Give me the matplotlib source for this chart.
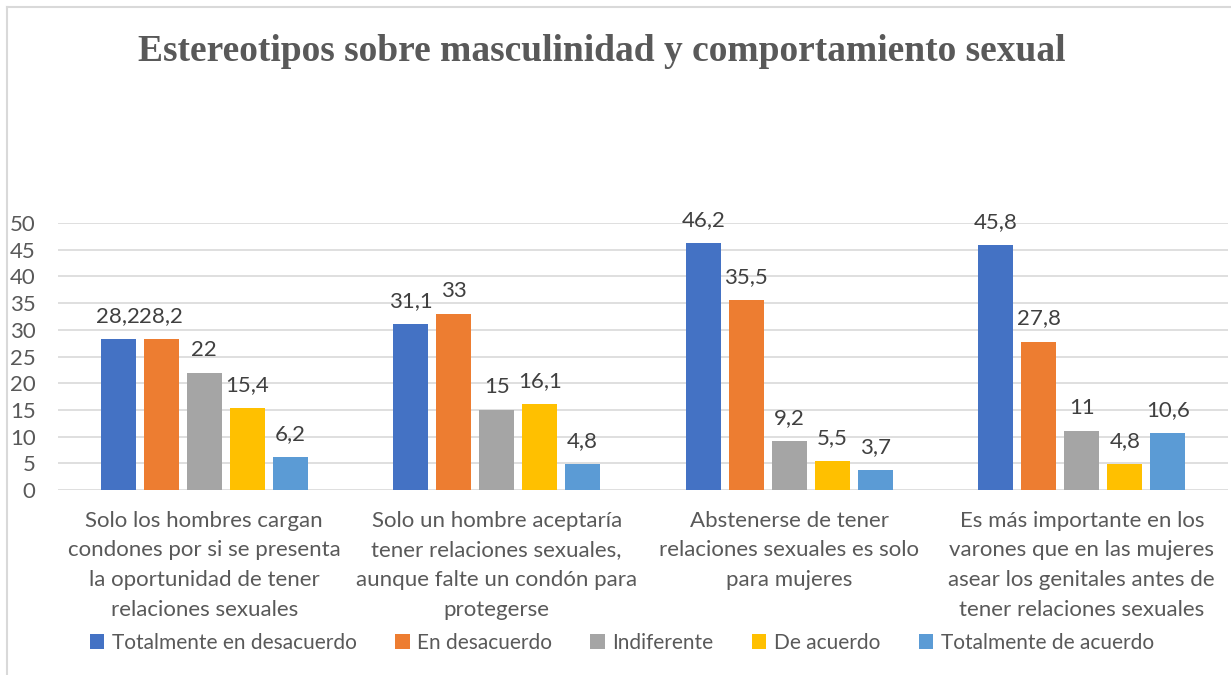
import numpy as np
import matplotlib.pyplot as plt
from matplotlib.lines import Line2D

categories = [
    "Solo los hombres cargan\ncondones por si se presenta\nla oportunidad de tener\nrelaciones sexuales",
    "Solo un hombre aceptaría\ntener relaciones sexuales,\naunque falte un condón para\nprotegerse",
    "Abstenerse de tener\nrelaciones sexuales es solo\npara mujeres",
    "Es más importante en los\nvarones que en las mujeres\nasear los genitales antes de\ntener relaciones sexuales",
]
series_names = ["Totalmente en desacuerdo", "En desacuerdo", "Indiferente",
                "De acuerdo", "Totalmente de acuerdo"]
totalmente_desacuerdo = [28.2, 31.1, 46.2, 45.8]
en_desacuerdo = [28.2, 33, 35.5, 27.8]
indiferente = [22, 15, 9.2, 11]
de_acuerdo = [15.4, 16.1, 5.5, 4.8]
totalmente_acuerdo = [6.2, 4.8, 3.7, 10.6]
colors = ["#4472C4", "#ED7D31", "#A5A5A5", "#FFC000", "#5B9BD5"]

series = [totalmente_desacuerdo, en_desacuerdo, indiferente, de_acuerdo, totalmente_acuerdo]

plt.rcParams['font.family'] = ['Lato', 'DejaVu Sans']
text_color = "#595959"

fig = plt.figure(figsize=(12.31, 6.75), dpi=100)
ax = fig.add_axes([0.047, 0.274, 0.9506, 0.3956])

x = np.arange(len(categories))
slot = 0.147
width = 0.12
for i, (name, vals, c) in enumerate(zip(series_names, series, colors)):
    pos = x + (i - 2) * slot
    bars = ax.bar(pos, vals, width=width, color=c, label=name, zorder=3)
    for b, v in zip(bars, vals):
        ax.annotate(f"{v:g}".replace(".", ","), (b.get_x() + b.get_width() / 2, v),
                    xytext=(0, 13), textcoords="offset pixels", ha="center", va="bottom",
                    fontsize=16, color="#404040")

ax.set_xlim(-0.5, 3.5)
ax.set_ylim(0, 50)
ax.set_yticks(range(0, 51, 5))
ax.yaxis.grid(True, color="#D9D9D9", linewidth=1.2, zorder=0)
for s in ax.spines.values():
    s.set_visible(False)
ax.tick_params(axis="both", length=0, colors=text_color, labelsize=16)
ax.tick_params(axis="y", pad=16)
ax.set_xticks(x)
ax.set_xticklabels(categories, linespacing=1.6)
ax.tick_params(axis="x", pad=15)

fig.suptitle("Estereotipos sobre masculinidad y comportamiento sexual",
             x=0.489, y=0.95, fontsize=27, fontweight="bold",
             family="Liberation Serif", color=text_color)

fig.legend(loc="center", bbox_to_anchor=(0.505, 0.048), ncol=5, frameon=False,
           fontsize=15, handlelength=0.7, handleheight=0.7, handletextpad=0.35,
           columnspacing=1.85, labelcolor=text_color)

# outer chart border (only top and left edges visible)
fig.add_artist(Line2D([7 / 1231, 7 / 1231], [0, 1 - 7 / 675], color="#D9D9D9", linewidth=1.5))
fig.add_artist(Line2D([7 / 1231, 1], [1 - 7 / 675, 1 - 7 / 675], color="#D9D9D9", linewidth=1.5))

fig.savefig("out.png", dpi=100)
